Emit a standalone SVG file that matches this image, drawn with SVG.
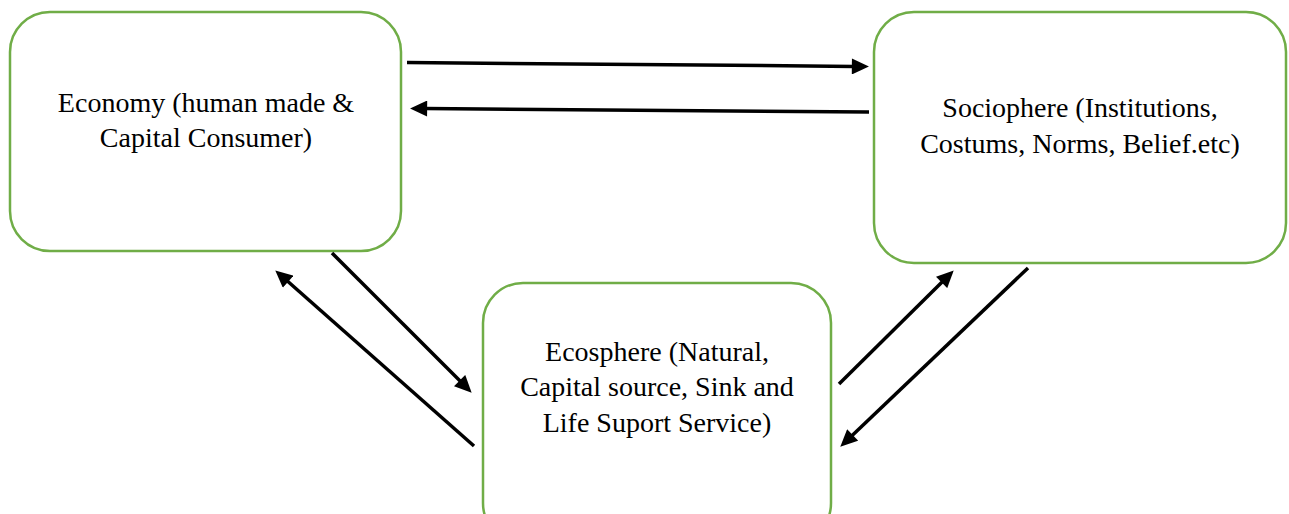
<svg xmlns="http://www.w3.org/2000/svg" width="1289" height="514" viewBox="0 0 1289 514">
<style>
.box{fill:#fff;stroke:#70AD47;stroke-width:2.5}
.lbl{font-family:"Liberation Serif","Times New Roman",serif;font-size:28px;fill:#000;text-anchor:middle}
.con{stroke:#000;stroke-width:3.5;fill:none;marker-end:url(#ah)}
</style>
<defs>
<marker id="ah" markerUnits="userSpaceOnUse" markerWidth="18" markerHeight="16" viewBox="0 0 16 15" refX="2" refY="7.5" orient="auto">
<path d="M0,0 L16,7.5 L0,15 z" fill="#000"/>
</marker>
</defs>
<rect width="1289" height="514" fill="#fff"/>
<g id="economy">
<rect class="box" x="10" y="12" width="391" height="239" rx="40"/>
<text class="lbl" x="206" y="112">Economy (human made &amp;</text>
<text class="lbl" x="206" y="147">Capital Consumer)</text>
</g>
<g id="sociophere">
<rect class="box" x="874" y="12" width="412" height="251" rx="40"/>
<text class="lbl" x="1080" y="117">Sociophere (Institutions,</text>
<text class="lbl" x="1080" y="153">Costums, Norms, Belief.etc)</text>
</g>
<g id="ecosphere">
<rect class="box" x="483" y="283" width="348" height="260" rx="40"/>
<text class="lbl" x="657" y="361">Ecosphere (Natural,</text>
<text class="lbl" x="657" y="396">Capital source, Sink and</text>
<text class="lbl" x="657" y="432">Life Suport Service)</text>
</g>
<g id="connectors">
<line class="con" x1="407" y1="62.5" x2="854" y2="66.4"/>
<line class="con" x1="869" y1="112" x2="425" y2="108.6"/>
<line class="con" x1="332" y1="253" x2="461.1" y2="382.1"/>
<line class="con" x1="474" y1="446" x2="286.5" y2="280.3"/>
<line class="con" x1="839" y1="384" x2="943.1" y2="280.9"/>
<line class="con" x1="1028" y1="268" x2="851.1" y2="436.4"/>
</g>
</svg>
